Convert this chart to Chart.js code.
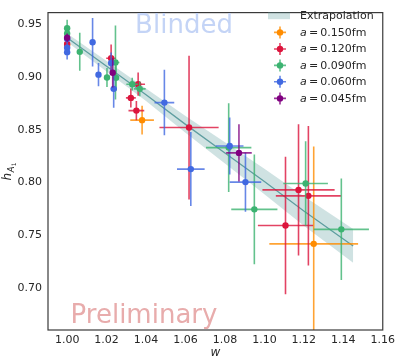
<!DOCTYPE html>
<html>
<head>
<meta charset="utf-8">
<script src="https://cdn.jsdelivr.net/npm/chart.js@4.4.1/dist/chart.umd.min.js"></script>
<style>
html,body{margin:0;padding:0;background:#fff;}
#c{display:block;}
</style>
</head>
<body>
<canvas id="c" width="399" height="359"></canvas>
<script>
// ---- data ----
const xTicks = [1.00, 1.02, 1.04, 1.06, 1.08, 1.10, 1.12, 1.14, 1.16];
const yTicks = [0.70, 0.75, 0.80, 0.85, 0.90, 0.95];

const bandX    = [1.000, 1.020, 1.040, 1.060, 1.080, 1.100, 1.120, 1.145];
const bandMid  = [0.937, 0.910, 0.883, 0.855, 0.828, 0.801, 0.773, 0.740];
const bandHigh = [0.941, 0.915, 0.889, 0.863, 0.838, 0.813, 0.787, 0.756];
const bandLow  = [0.933, 0.905, 0.877, 0.847, 0.818, 0.789, 0.759, 0.724];

const spacings = ["0.150fm", "0.120fm", "0.090fm", "0.060fm", "0.045fm"];

const w150  = [1.000, 1.038, 1.125];
const h150  = [0.930, 0.859, 0.742];
const xe150 = [0.0005, 0.006, 0.0225];
const ye150 = [0.003, 0.0135, 0.092];

const w120  = [1.000, 1.0223, 1.036, 1.0323, 1.0351, 1.0618, 1.1173, 1.1223, 1.1107];
const h120  = [0.931, 0.9175, 0.893, 0.880, 0.868, 0.852, 0.793, 0.7874, 0.7594];
const xe120 = [0.0005, 0.0025, 0.0035, 0.0025, 0.004, 0.015, 0.0183, 0.0165, 0.014];
const ye120 = [0.003, 0.013, 0.011, 0.009, 0.009, 0.068, 0.062, 0.066, 0.065];

const w090  = [1.000, 1.000, 1.0064, 1.0202, 1.0248, 1.0245, 1.033, 1.0368, 1.0819, 1.0949, 1.1209, 1.139];
const h090  = [0.946, 0.941, 0.9236, 0.8993, 0.899, 0.9135, 0.893, 0.8886, 0.833, 0.7746, 0.799, 0.7557];
const xe090 = [0.0005, 0.0005, 0.001, 0.0015, 0.0015, 0.002, 0.003, 0.003, 0.0115, 0.0117, 0.0113, 0.014];
const ye090 = [0.008, 0.006, 0.018, 0.009, 0.012, 0.035, 0.006, 0.007, 0.042, 0.052, 0.040, 0.048];

const w060  = [1.000, 1.000, 1.000, 1.0129, 1.0159, 1.0223, 1.0236, 1.0493, 1.0627, 1.0824, 1.0904];
const h060  = [0.936, 0.9274, 0.9233, 0.9327, 0.902, 0.913, 0.8886, 0.8756, 0.8127, 0.8345, 0.8004];
const xe060 = [0.0005, 0.0005, 0.0005, 0.001, 0.001, 0.001, 0.0015, 0.005, 0.007, 0.007, 0.008];
const ye060 = [0.004, 0.005, 0.007, 0.023, 0.011, 0.010, 0.018, 0.031, 0.035, 0.027, 0.028];

const w045  = [1.000, 1.0231, 1.0871];
const h045  = [0.937, 0.9038, 0.828];
const xe045 = [0.0005, 0.001, 0.0065];
const ye045 = [0.004, 0.014, 0.027];

// ---- build ----
function pts(xs, ys){ return xs.map((x,i)=>({x:x, y:ys[i]})); }
const series = [
  {lab: spacings[0], w:w150, h:h150, xe:xe150, ye:ye150, color:'#ff8c00', order:5},
  {lab: spacings[1], w:w120, h:h120, xe:xe120, ye:ye120, color:'#dc143c', order:4},
  {lab: spacings[2], w:w090, h:h090, xe:xe090, ye:ye090, color:'#3cb371', order:3},
  {lab: spacings[3], w:w060, h:h060, xe:xe060, ye:ye060, color:'#4169e1', order:2},
  {lab: spacings[4], w:w045, h:h045, xe:xe045, ye:ye045, color:'#800080', order:1},
];
function rgba(hex, a){
  const n=parseInt(hex.slice(1),16);
  return `rgba(${(n>>16)&255},${(n>>8)&255},${n&255},${a})`;
}

const datasets = [
  {type:'line', data:pts(bandX,bandLow), borderWidth:0, pointRadius:0, fill:false, order:100, borderColor:'rgba(0,0,0,0)'},
  {type:'line', data:pts(bandX,bandHigh), borderWidth:0, pointRadius:0, fill:'-1', backgroundColor:'rgba(95,158,160,0.3)', order:99, borderColor:'rgba(0,0,0,0)'},
  {type:'line', data:pts(bandX,bandMid), borderWidth:1.3, pointRadius:0, fill:false, borderColor:'rgb(95,158,160)', order:98},
];
series.forEach(s=>{
  datasets.push({type:'scatter', data:pts(s.w,s.h), showLine:false, pointRadius:3.2, pointHoverRadius:3.2,
    pointBackgroundColor:s.color, pointBorderColor:s.color, borderWidth:0, order:s.order,
    _xe:s.xe, _ye:s.ye, _color:s.color});
});

const FONT = "'DejaVu Sans'";

const errPlugin = {
  id:'errbars',
  beforeDatasetDraw(chart, args){
    const ds = chart.data.datasets[args.index];
    if(!ds._xe) return;
    const xs = chart.scales.x, ys = chart.scales.y, ctx = chart.ctx, ca = chart.chartArea;
    ctx.save();
    ctx.beginPath(); ctx.rect(ca.left, ca.top, ca.right-ca.left, ca.bottom-ca.top); ctx.clip();
    ctx.strokeStyle = rgba(ds._color, 0.8);
    ctx.lineWidth = 1.6;
    ds.data.forEach((p,i)=>{
      const px = xs.getPixelForValue(p.x), py = ys.getPixelForValue(p.y);
      const x0 = xs.getPixelForValue(p.x - ds._xe[i]), x1 = xs.getPixelForValue(p.x + ds._xe[i]);
      const y0 = ys.getPixelForValue(p.y - ds._ye[i]), y1 = ys.getPixelForValue(p.y + ds._ye[i]);
      ctx.beginPath();
      ctx.moveTo(x0, py); ctx.lineTo(x1, py);
      ctx.moveTo(px, y0); ctx.lineTo(px, y1);
      ctx.stroke();
    });
    ctx.restore();
  }
};

const decoPlugin = {
  id:'deco',
  afterDraw(chart){
    const ctx = chart.ctx, ca = chart.chartArea;
    ctx.save();
    // frame
    ctx.strokeStyle = '#3a3a3a'; ctx.lineWidth = 1.2;
    ctx.strokeRect(ca.left, ca.top, ca.right-ca.left, ca.bottom-ca.top);
    // watermarks
    ctx.textAlign = 'center'; ctx.textBaseline = 'alphabetic';
    ctx.font = `26px ${FONT}`;
    ctx.fillStyle = 'rgb(196,212,246)';
    ctx.fillText('Blinded', 184, 33);
    ctx.fillStyle = 'rgb(232,172,172)';
    ctx.fillText('Preliminary', 144, 323);
    // axis titles
    ctx.fillStyle = '#262626';
    ctx.font = `italic 12px ${FONT}`;
    ctx.fillText('w', (ca.left+ca.right)/2, 356);
    // y title h_{A_1}
    ctx.save();
    ctx.translate(11, (ca.top+ca.bottom)/2);
    ctx.rotate(-Math.PI/2);
    ctx.textAlign = 'left';
    ctx.font = `italic 12px ${FONT}`; const wh = ctx.measureText('h').width;
    ctx.font = `italic 8.5px ${FONT}`; const wa = ctx.measureText('A').width;
    ctx.font = `6px ${FONT}`; const w1 = ctx.measureText('1').width;
    let x0 = -(wh+wa+w1+1)/2;
    ctx.font = `italic 12px ${FONT}`; ctx.fillText('h', x0, 0);
    ctx.font = `italic 8.5px ${FONT}`; ctx.fillText('A', x0+wh+0.5, 2.5);
    ctx.font = `6px ${FONT}`; ctx.fillText('1', x0+wh+wa+0.8, 4.5);
    ctx.restore();
    // legend
    ctx.textAlign = 'left';
    const rowY = [15.7, 32.4, 49.0, 65.4, 81.8, 98.4];
    ctx.fillStyle = 'rgba(95,158,160,0.3)';
    ctx.fillRect(268, rowY[0]-3.5, 22, 7);
    ctx.fillStyle = '#262626';
    ctx.textBaseline = 'middle';
    ctx.font = `11px ${FONT}`;
    ctx.fillText('Extrapolation', 300, rowY[0]+0.5);
    series.forEach((s,i)=>{
      const y = rowY[i+1], cx = 280;
      ctx.strokeStyle = rgba(s.color, 0.8); ctx.lineWidth = 1.6;
      ctx.beginPath(); ctx.moveTo(cx-6, y); ctx.lineTo(cx+6, y); ctx.moveTo(cx, y-6); ctx.lineTo(cx, y+6); ctx.stroke();
      ctx.fillStyle = s.color; ctx.beginPath(); ctx.arc(cx, y, 3.2, 0, Math.PI*2); ctx.fill();
      ctx.fillStyle = '#262626';
      ctx.font = `italic 11px ${FONT}`;
      ctx.fillText('a', 300, y+0.5);
      const wa2 = ctx.measureText('a').width;
      ctx.font = `11px ${FONT}`;
      ctx.fillText('\u2009=\u2009' + s.lab, 300+wa2, y+0.5);
    });
    ctx.restore();
  }
};

new Chart(document.getElementById('c'), {
  type:'scatter',
  data:{datasets},
  options:{
    responsive:false, animation:false, events:[],
    layout:{padding:{left:0, right:13, top:1, bottom:0}},
    plugins:{legend:{display:false}, tooltip:{enabled:false}},
    scales:{
      x:{type:'linear', min:0.9903, max:1.16,
         grid:{display:false, drawTicks:false, tickLength:0}, border:{display:false},
         afterBuildTicks(sc){ sc.ticks = xTicks.map(v=>({value:v})); },
         afterFit(sc){ sc.height = 29; },
         ticks:{padding:4, color:'#262626', font:{family:'DejaVu Sans', size:11}, maxRotation:0, autoSkip:false,
                callback:(v)=>Number(v).toFixed(2)}},
      y:{type:'linear', min:0.6605, max:0.9607,
         grid:{display:false, drawTicks:false, tickLength:0}, border:{display:false},
         afterBuildTicks(sc){ sc.ticks = yTicks.map(v=>({value:v})); },
         afterFit(sc){ sc.width = 48; },
         ticks:{padding:6, color:'#262626', font:{family:'DejaVu Sans', size:11}, autoSkip:false,
                callback:(v)=>Number(v).toFixed(2)}}
    }
  },
  plugins:[errPlugin, decoPlugin]
});
</script>
</body>
</html>
